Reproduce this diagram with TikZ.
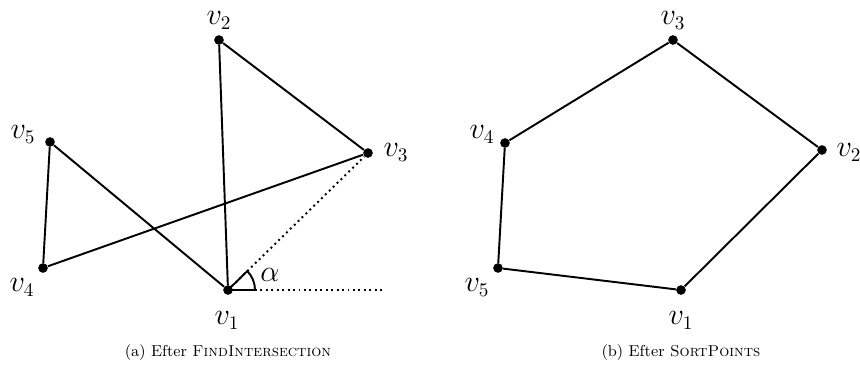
\documentclass[tikz,border=0pt]{standalone}
\usepackage{amsmath,amssymb}
\usepackage{tikz}
\usepackage{xcolor}

\begin{document}
\begin{tikzpicture}[x=0.02cm,y=-0.02cm, pt/.style={circle,fill,inner sep=0pt,minimum size=5.5pt}, edge/.style={line width=1.1pt}, lbl/.style={inner sep=0pt,anchor=base,font=\fontsize{16pt}{19pt}\selectfont}]
  \useasboundingbox (0,0) rectangle (860,381);
  % (a) Efter FindIntersection
  \node[pt] (a1) at (228,290) {}; \node[pt] (a2) at (219,40) {}; \node[pt] (a3) at (368,153) {}; \node[pt] (a4) at (43,268) {}; \node[pt] (a5) at (50,142) {};
  \coordinate (ax) at (383,290);
  \draw[edge] (a1) -- (a2) -- (a3) -- (a4) -- (a5) -- (a1);
  \draw[dotted, line width=1.1pt] (a1) -- (a3); \draw[dotted, line width=1.1pt] (a1) -- (ax);
  \draw[edge] (a1.center) -- ++(27,0) arc[start angle=0, end angle=-44.4, radius=27] -- cycle;
  \node[lbl] (alpha) at (270,282) {$\alpha$};
  \node[lbl] (la1) at (227,325) {$v_1$}; \node[lbl] (la2) at (219,25) {$v_2$}; \node[lbl] (la3) at (396,157) {$v_3$}; \node[lbl] (la4) at (22,292) {$v_4$}; \node[lbl] (la5) at (23,139) {$v_5$};
  % (b) Efter SortPoints
  \node[pt] (b1) at (681,290) {}; \node[pt] (b2) at (822,150) {}; \node[pt] (b3) at (673,40) {}; \node[pt] (b4) at (505,143) {}; \node[pt] (b5) at (498,268) {};
  \draw[edge] (b1) -- (b2) -- (b3) -- (b4) -- (b5) -- (b1);
  \node[lbl] (lb1) at (681,325) {$v_1$}; \node[lbl] (lb2) at (849,157) {$v_2$}; \node[lbl] (lb3) at (673,25) {$v_3$}; \node[lbl] (lb4) at (482,139) {$v_4$}; \node[lbl] (lb5) at (477,292) {$v_5$};
  % captions
  \node[font=\small,anchor=base] (capa) at (228,357) {(a) Efter \textsc{FindIntersection}};
  \node[font=\small,anchor=base] (capb) at (681,357) {(b) Efter \textsc{SortPoints}};
\end{tikzpicture}
\end{document}
